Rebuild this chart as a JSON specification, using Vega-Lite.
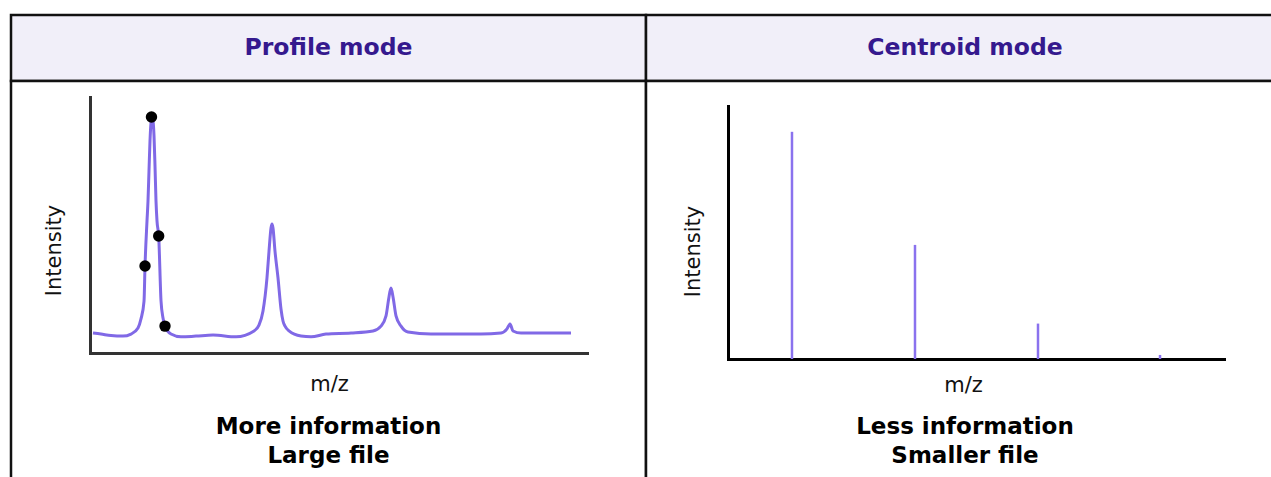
{
  "$schema": "https://vega.github.io/schema/vega-lite/v6.json",
  "background": "white",
  "padding": {"left": 9, "top": 13, "right": 0, "bottom": 0},
  "spacing": 0,
  "bounds": "flush",
  "columns": 2,
  "config": {
    "font": "DejaVu Sans",
    "concat": {"spacing": 0},
    "axis": {"grid": false, "ticks": false, "labels": false, "domainWidth": 3, "domainCap": "square", "titleFont": "DejaVu Sans", "titleFontWeight": "normal", "titleFontSize": 21, "titleColor": "#111111", "minExtent": 0, "maxExtent": 0},
    "title": {"font": "DejaVu Sans", "fontSize": 23, "fontWeight": "bold", "color": "#000000", "lineHeight": 29, "anchor": "middle", "frame": "group"}
  },
  "datasets": {
    "profile": [
      {"mz": 0.60, "intensity": 7.8}, {"mz": 2.21, "intensity": 7.4}, {"mz": 4.23, "intensity": 6.8}, {"mz": 6.64, "intensity": 6.6},
      {"mz": 8.25, "intensity": 7.4}, {"mz": 9.66, "intensity": 9.8}, {"mz": 10.26, "intensity": 13.3}, {"mz": 10.87, "intensity": 20.3},
      {"mz": 11.07, "intensity": 34.0}, {"mz": 11.47, "intensity": 51.6}, {"mz": 11.67, "intensity": 59.4}, {"mz": 11.87, "intensity": 71.1},
      {"mz": 12.07, "intensity": 82.8}, {"mz": 12.27, "intensity": 89.8}, {"mz": 12.47, "intensity": 91.8}, {"mz": 12.68, "intensity": 90.6},
      {"mz": 12.88, "intensity": 84.8}, {"mz": 13.08, "intensity": 73.0}, {"mz": 13.28, "intensity": 59.4}, {"mz": 13.48, "intensity": 51.6},
      {"mz": 13.82, "intensity": 45.7}, {"mz": 14.29, "intensity": 20.3}, {"mz": 14.69, "intensity": 13.7}, {"mz": 15.09, "intensity": 10.5},
      {"mz": 16.30, "intensity": 7.4}, {"mz": 18.31, "intensity": 6.3}, {"mz": 21.33, "intensity": 6.6}, {"mz": 24.75, "intensity": 7.0},
      {"mz": 29.38, "intensity": 6.3}, {"mz": 33.00, "intensity": 8.6}, {"mz": 34.00, "intensity": 10.9}, {"mz": 34.81, "intensity": 16.4},
      {"mz": 35.61, "intensity": 29.3}, {"mz": 36.02, "intensity": 39.8}, {"mz": 36.42, "intensity": 48.8}, {"mz": 36.62, "intensity": 50.4},
      {"mz": 36.82, "intensity": 48.8}, {"mz": 37.22, "intensity": 39.8}, {"mz": 37.83, "intensity": 29.3}, {"mz": 38.43, "intensity": 17.2},
      {"mz": 38.83, "intensity": 12.5}, {"mz": 39.24, "intensity": 10.5}, {"mz": 40.04, "intensity": 8.6}, {"mz": 42.45, "intensity": 6.6}, {"mz": 44.47, "intensity": 6.3},
      {"mz": 47.48, "intensity": 7.4}, {"mz": 52.52, "intensity": 7.8}, {"mz": 56.94, "intensity": 8.6}, {"mz": 58.55, "intensity": 10.5},
      {"mz": 59.56, "intensity": 14.5}, {"mz": 60.16, "intensity": 21.9}, {"mz": 60.56, "intensity": 25.4}, {"mz": 60.97, "intensity": 21.9},
      {"mz": 61.57, "intensity": 14.5}, {"mz": 62.58, "intensity": 10.5}, {"mz": 63.98, "intensity": 8.2}, {"mz": 68.61, "intensity": 7.4},
      {"mz": 78.67, "intensity": 7.4}, {"mz": 82.70, "intensity": 7.8}, {"mz": 83.90, "intensity": 9.4}, {"mz": 84.51, "intensity": 11.3},
      {"mz": 85.11, "intensity": 8.6}, {"mz": 86.72, "intensity": 7.8}, {"mz": 96.78, "intensity": 7.8}
    ],
    "profileDots": [
      {"mz": 12.37, "intensity": 92.2}, {"mz": 13.82, "intensity": 45.7}, {"mz": 11.07, "intensity": 34.0}, {"mz": 15.09, "intensity": 10.5}
    ],
    "centroid": [
      {"mz": 12.9, "intensity": 89.8}, {"mz": 37.7, "intensity": 45.1}, {"mz": 62.5, "intensity": 14.0}, {"mz": 87.1, "intensity": 1.6}
    ]
  },
  "concat": [
    {
      "width": 635, "height": 66,
      "view": {"fill": "#f1eff9", "stroke": "#111111", "strokeWidth": 2.5},
      "data": {"values": [{"label": "Profile mode"}]},
      "mark": {"type": "text", "font": "DejaVu Sans", "fontWeight": "bold", "fontSize": 23.5, "fill": "#35198e"},
      "encoding": {"text": {"field": "label"}}
    },
    {
      "width": 638, "height": 66,
      "view": {"fill": "#f1eff9", "stroke": "#111111", "strokeWidth": 2.5},
      "data": {"values": [{"label": "Centroid mode"}]},
      "mark": {"type": "text", "font": "DejaVu Sans", "fontWeight": "bold", "fontSize": 23.5, "fill": "#35198e"},
      "encoding": {"text": {"field": "label"}}
    },
    {
      "width": 635, "height": 400,
      "view": {"fill": "white", "stroke": "#111111", "strokeWidth": 2.5},
      "title": {"text": ["More information", "Large file"], "orient": "bottom", "offset": -65},
      "layer": [
        {
          "data": {"name": "profile"},
          "mark": {"type": "line", "interpolate": "monotone", "color": "#8069e6", "strokeWidth": 3},
          "encoding": {
            "x": {"field": "mz", "type": "quantitative", "scale": {"domain": [0, 100], "range": [79, 576], "nice": false, "zero": false},
              "axis": {"title": "m/z", "orient": "bottom", "offset": -128, "domainColor": "#333333", "titlePadding": 20, "titleX": 318}},
            "y": {"field": "intensity", "type": "quantitative", "scale": {"domain": [0, 100], "range": [272, 16], "nice": false, "zero": false},
              "axis": {"title": "Intensity", "orient": "left", "offset": -79, "domainColor": "#333333", "titlePadding": 26, "titleY": 169}}
          }
        },
        {
          "data": {"name": "profileDots"},
          "mark": {"type": "point", "filled": true, "color": "#000000", "size": 130, "opacity": 1},
          "encoding": {
            "x": {"field": "mz", "type": "quantitative"},
            "y": {"field": "intensity", "type": "quantitative"}
          }
        }
      ]
    },
    {
      "width": 638, "height": 400,
      "view": {"fill": "white", "stroke": "#111111", "strokeWidth": 2.5},
      "title": {"text": ["Less information", "Smaller file"], "orient": "bottom", "offset": -65},
      "data": {"name": "centroid"},
      "mark": {"type": "rule", "color": "#8a72ee", "strokeWidth": 2.5},
      "encoding": {
        "x": {"field": "mz", "type": "quantitative", "scale": {"domain": [0, 100], "range": [82, 578], "nice": false, "zero": false},
          "axis": {"title": "m/z", "orient": "bottom", "offset": -122, "domainColor": "#000000", "titlePadding": 15, "titleX": 317}},
        "y": {"field": "intensity", "type": "quantitative", "scale": {"domain": [0, 100], "range": [278, 25], "nice": false, "zero": false},
          "axis": {"title": "Intensity", "orient": "left", "offset": -82, "domainColor": "#000000", "titlePadding": 25, "titleY": 170}},
        "y2": {"datum": 0}
      }
    }
  ]
}
